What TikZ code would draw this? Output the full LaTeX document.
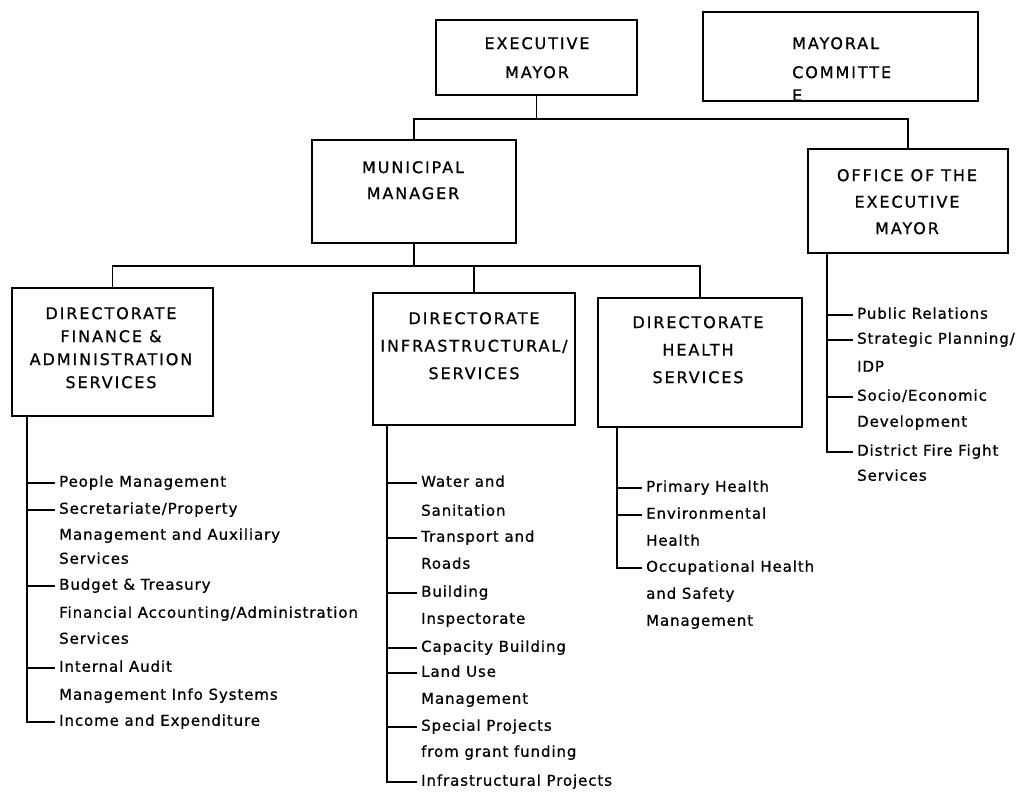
\documentclass[tikz,border=0pt]{standalone}
\usepackage{fontspec}
\setmainfont{DejaVu Sans}
\newfontfamily\boxfont{DejaVu Sans}[LetterSpace=12,FakeBold=0.8]
\newfontfamily\itemfont{DejaVu Sans}[LetterSpace=6,FakeBold=0.8]
\tikzset{
  box/.style={draw, line width=1.8pt, inner sep=0pt},
  boxlabel/.style={font=\boxfont\fontsize{16}{#1}\selectfont, align=center, inner sep=0pt, anchor=north},
  item/.style={anchor=west, font=\itemfont\fontsize{15}{17}\selectfont, inner xsep=4pt, inner ysep=0pt, text height=10.5pt, text depth=3pt},
  conn/.style={line width=1.8pt}
}
\begin{document}
\begin{tikzpicture}[x=1pt,y=-1pt]
\useasboundingbox (0,0) rectangle (1021,799);
% boxes
\node[box, minimum width=201pt, minimum height=75pt] (em) at (536.5,57.5) {};
\node[boxlabel=29pt] (emt) at (537,37) {EXECUTIVE\\MAYOR};
\node[box, minimum width=275pt, minimum height=89pt] (mc) at (840.5,56.5) {};
\node[boxlabel=29pt, anchor=north west, align=left] (mct) at (792,37) {MAYORAL\\COMMITTE\\[-6pt]E};
\node[box, minimum width=204pt, minimum height=103pt] (mm) at (414,191.5) {};
\node[boxlabel=26pt] (mmt) at (413,161) {MUNICIPAL\\MANAGER};
\node[box, minimum width=200pt, minimum height=104pt] (oem) at (908,201) {};
\node[boxlabel=26.5pt] (oemt) at (907,169) {OFFICE OF THE\\EXECUTIVE\\MAYOR};
\node[box, minimum width=201pt, minimum height=128pt] (fin) at (112.5,352) {};
\node[boxlabel=23pt] (fint) at (111,307) {DIRECTORATE\\FINANCE \&\\ADMINISTRATION\\SERVICES};
\node[box, minimum width=202pt, minimum height=132pt] (inf) at (474,359) {};
\node[boxlabel=27.5pt] (inft) at (474,312) {DIRECTORATE\\INFRASTRUCTURAL/\\SERVICES};
\node[box, minimum width=204pt, minimum height=129pt] (hea) at (700,362.5) {};
\node[boxlabel=27.5pt] (heat) at (698,316) {DIRECTORATE\\HEALTH\\SERVICES};

% top connectors
\coordinate (j1) at (536.5,119);
\draw[conn] (em.south) -- (j1);
\draw[conn] (mm.north) |- (j1) -| (oem.north);
\coordinate (j2) at (414,266);
\draw[conn] (mm.south) -- (j2);
\draw[conn] (fin.north) |- (j2) -| (hea.north);
\draw[conn] (inf.north) -- (inf.north |- j2);

% finance list
\node[item] (f1) at (55,483) {People Management};
\node[item] (f2) at (55,510) {Secretariate/Property};
\node[item] (f2b) at (55,536) {Management and Auxiliary};
\node[item] (f2c) at (55,560) {Services};
\node[item] (f3) at (55,586) {Budget \& Treasury};
\node[item] (f3b) at (55,614) {Financial Accounting/Administration};
\node[item] (f3c) at (55,640) {Services};
\node[item] (f4) at (55,668) {Internal Audit};
\node[item] (f4b) at (55,696) {Management Info Systems};
\node[item] (f5) at (55,722) {Income and Expenditure};
\coordinate (fbus) at ([xshift=16pt]fin.south west);
\draw[conn] (fbus) |- (f5.west);
\foreach \n in {f1,f2,f3,f4} \draw[conn] (fbus |- \n.west) -- (\n.west);

% infrastructure list
\node[item] (i1) at (417,483) {Water and};
\node[item] (i1b) at (417,512) {Sanitation};
\node[item] (i2) at (417,538) {Transport and};
\node[item] (i2b) at (417,565) {Roads};
\node[item] (i3) at (417,593) {Building};
\node[item] (i3b) at (417,620) {Inspectorate};
\node[item] (i4) at (417,648) {Capacity Building};
\node[item] (i5) at (417,673) {Land Use};
\node[item] (i5b) at (417,700) {Management};
\node[item] (i6) at (417,727) {Special Projects};
\node[item] (i6b) at (417,753) {from grant funding};
\node[item] (i7) at (417,782) {Infrastructural Projects};
\coordinate (ibus) at ([xshift=15pt]inf.south west);
\draw[conn] (ibus) |- (i7.west);
\foreach \n in {i1,i2,i3,i4,i5,i6} \draw[conn] (ibus |- \n.west) -- (\n.west);

% health list
\node[item] (h1) at (642,488) {Primary Health};
\node[item] (h2) at (642,515) {Environmental};
\node[item] (h2b) at (642,542) {Health};
\node[item] (h3) at (642,568) {Occupational Health};
\node[item] (h3b) at (642,595) {and Safety};
\node[item] (h3c) at (642,622) {Management};
\coordinate (hbus) at ([xshift=20pt]hea.south west);
\draw[conn] (hbus) |- (h3.west);
\foreach \n in {h1,h2} \draw[conn] (hbus |- \n.west) -- (\n.west);

% office list
\node[item] (o1) at (853,315) {Public Relations};
\node[item] (o2) at (853,340) {Strategic Planning/};
\node[item] (o2b) at (853,368) {IDP};
\node[item] (o3) at (853,397) {Socio/Economic};
\node[item] (o3b) at (853,423) {Development};
\node[item] (o4) at (853,452) {District Fire Fight};
\node[item] (o4b) at (853,477) {Services};
\coordinate (obus) at ([xshift=20pt]oem.south west);
\draw[conn] (obus) |- (o4.west);
\foreach \n in {o1,o2,o3} \draw[conn] (obus |- \n.west) -- (\n.west);
\end{tikzpicture}
\end{document}
